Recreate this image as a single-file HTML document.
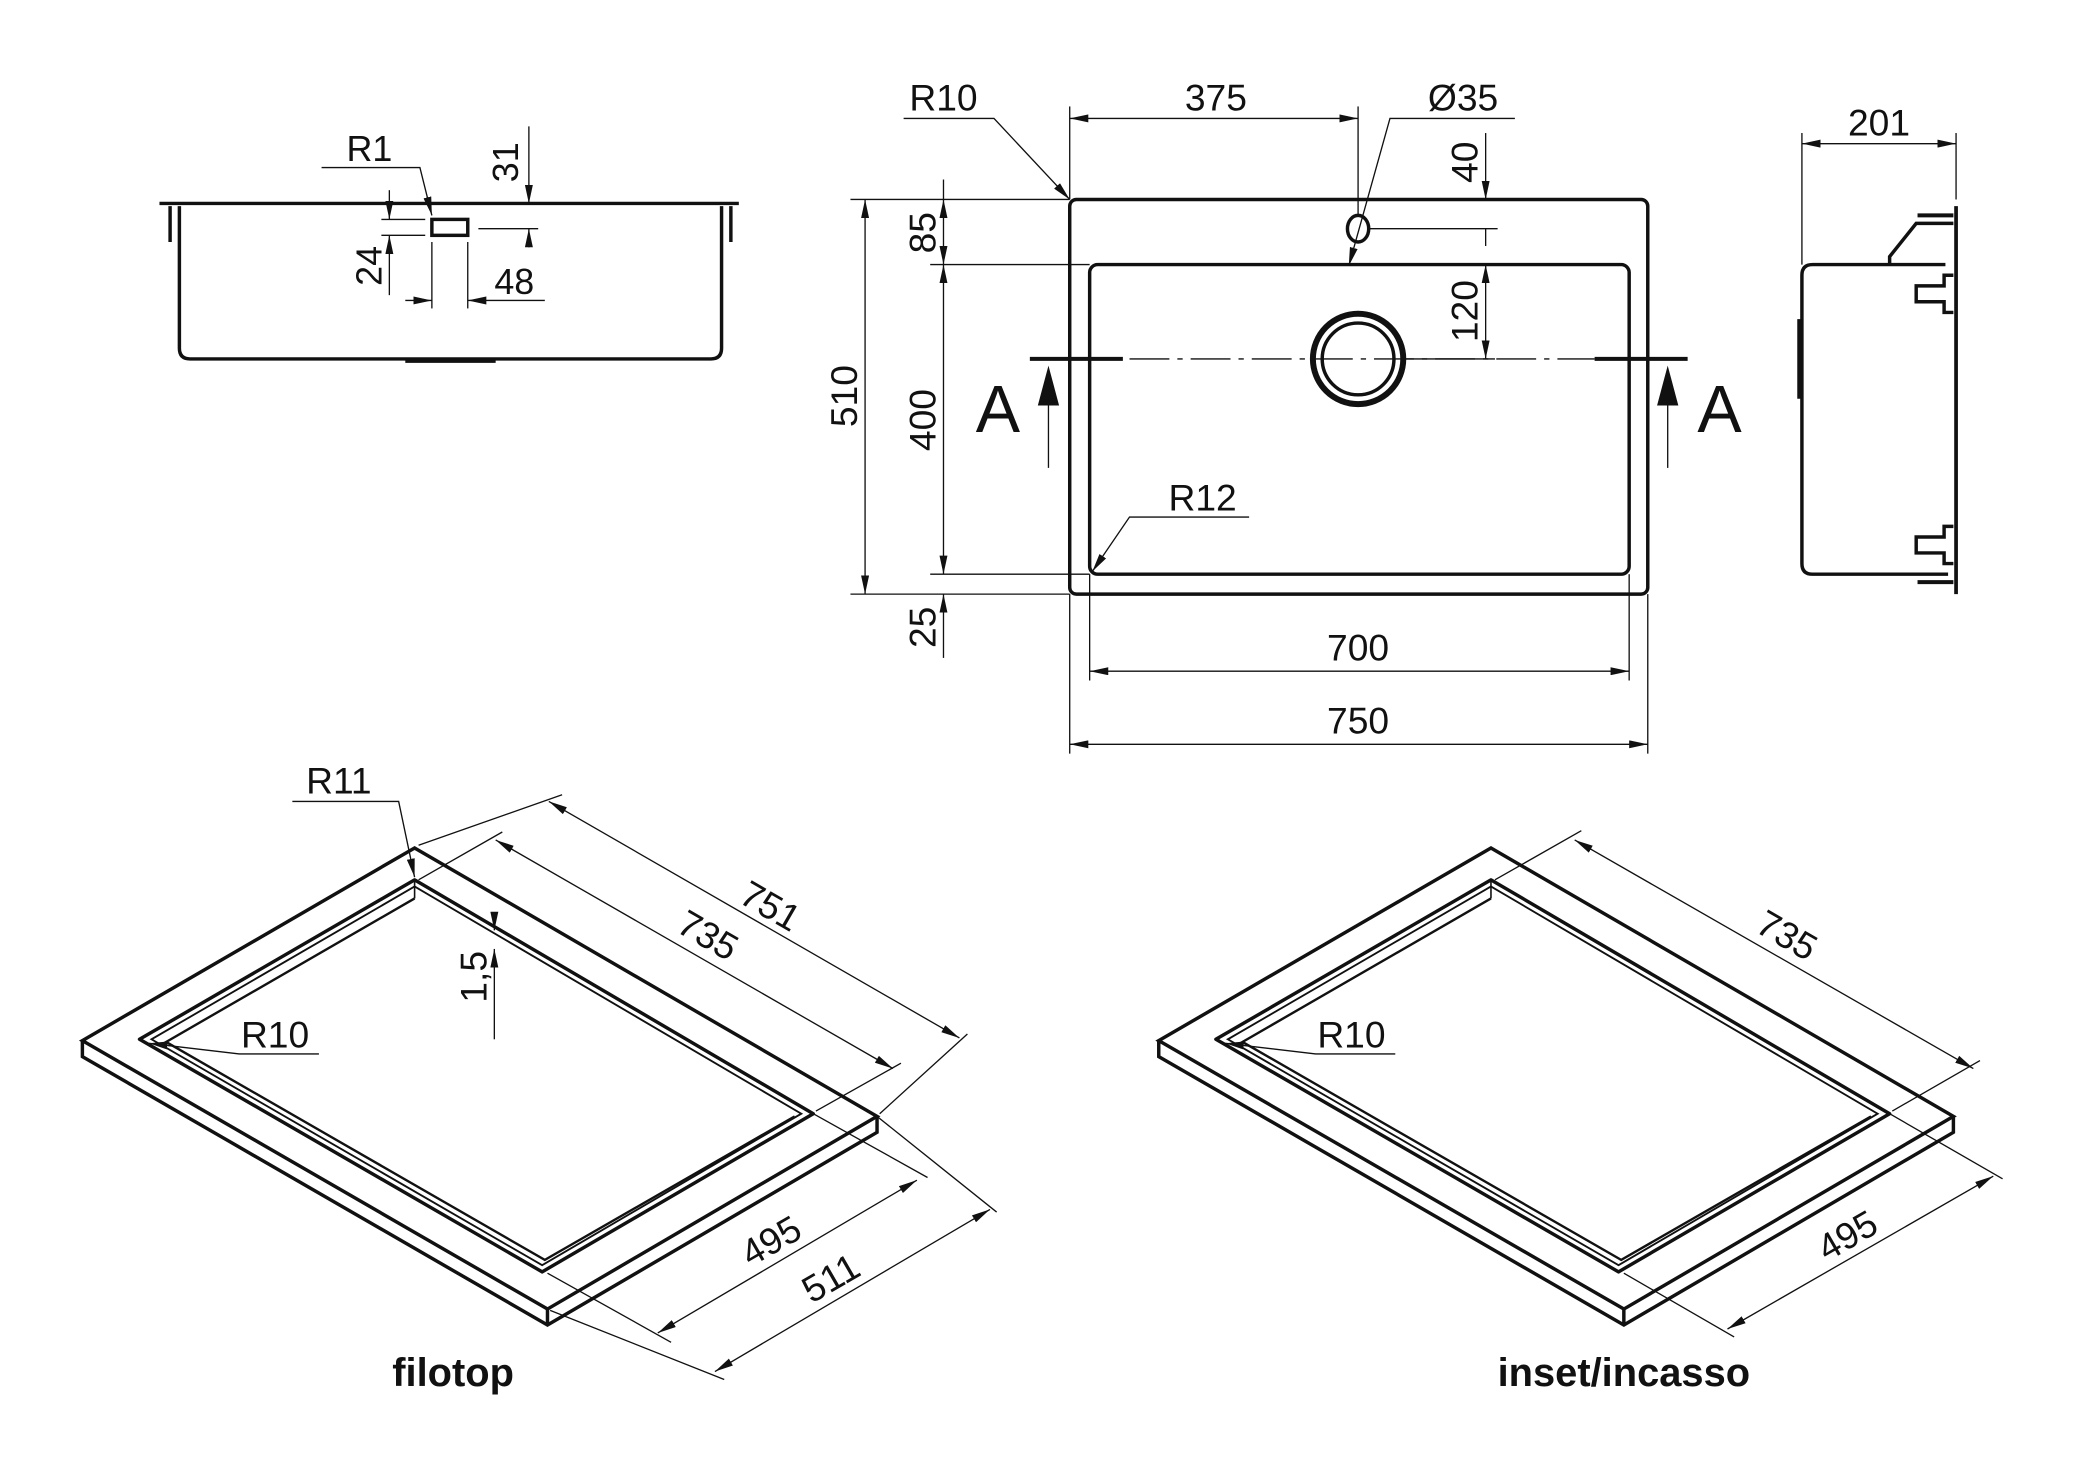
<!DOCTYPE html>
<html><head><meta charset="utf-8"><style>
html,body{margin:0;padding:0;background:#fff}
svg{display:block}
text{font-family:"Liberation Sans Narrow","Liberation Sans",sans-serif;fill:#111}
</style></head><body>
<svg width="2073" height="1466" viewBox="0 0 1560 1103" xmlns="http://www.w3.org/2000/svg">
<defs>
<marker id="a" viewBox="0 0 14 6" refX="14" refY="3" markerWidth="14" markerHeight="6" markerUnits="userSpaceOnUse" orient="auto-start-reverse"><path d="M0,0 L14,3 L0,6z" fill="#111"/></marker>
</defs>
<g fill="none" stroke="#111" stroke-width="1">
<g stroke-width="2.6">
<line x1="120" y1="153" x2="556" y2="153"/>
<path d="M135,155 V262 Q135,270 143,270 H535 Q543,270 543,262 V155"/>
<line x1="128" y1="155" x2="128" y2="182"/><line x1="550" y1="155" x2="550" y2="182"/>
<line x1="305" y1="271" x2="373" y2="271" stroke-width="4"/>
<rect x="325" y="165" width="27" height="12"/>
</g>
<polyline points="242,126 316,126 325,162" marker-end="url(#a)"/>
<line x1="398" y1="95" x2="398" y2="153" marker-end="url(#a)"/>
<line x1="398" y1="186" x2="398" y2="172" marker-end="url(#a)"/>
<line x1="360" y1="172" x2="405" y2="172"/>
<line x1="293" y1="143" x2="293" y2="165" marker-end="url(#a)"/>
<line x1="293" y1="222" x2="293" y2="177" marker-end="url(#a)"/>
<line x1="287" y1="165" x2="320" y2="165"/><line x1="287" y1="177" x2="320" y2="177"/>
<line x1="325" y1="182" x2="325" y2="232"/><line x1="352" y1="182" x2="352" y2="232"/>
<line x1="305" y1="226" x2="325" y2="226" marker-end="url(#a)"/>
<line x1="410" y1="226" x2="352" y2="226" marker-end="url(#a)"/>
</g>
<text x="278" y="121" font-size="27" text-anchor="middle">R1</text>
<text x="390" y="122" font-size="27" text-anchor="middle" transform="rotate(-90 390 122)">31</text>
<text x="287" y="200" font-size="27" text-anchor="middle" transform="rotate(-90 287 200)">24</text>
<text x="387" y="221" font-size="27" text-anchor="middle">48</text>

<g fill="none" stroke="#111" stroke-width="2.6">
<rect x="805" y="150" width="435" height="297" rx="5"/>
<rect x="820" y="199" width="406" height="233" rx="6"/>
<circle cx="1022" cy="270" r="34" stroke-width="4.5"/>
<circle cx="1022" cy="270" r="27"/>
<ellipse cx="1022" cy="172" rx="8" ry="10"/>
<line x1="775" y1="270" x2="845" y2="270" stroke-width="3"/>
<line x1="1200" y1="270" x2="1270" y2="270" stroke-width="3"/>
</g>
<g fill="none" stroke="#111" stroke-width="1">
<line x1="850" y1="270" x2="1200" y2="270" stroke-dasharray="30,6,4,6"/>
<line x1="789" y1="352" x2="789" y2="305"/>
<line x1="1255" y1="352" x2="1255" y2="305"/>
<line x1="805" y1="80" x2="805" y2="150"/>
<line x1="1022" y1="80" x2="1022" y2="162"/>
<line x1="805" y1="89" x2="1022" y2="89" marker-start="url(#a)" marker-end="url(#a)"/>
<polyline points="1140,89 1046,89 1015,200" marker-end="url(#a)"/>
<line x1="1030" y1="172" x2="1127" y2="172"/>
<line x1="1118" y1="100" x2="1118" y2="150" marker-end="url(#a)"/>
<line x1="1118" y1="185" x2="1118" y2="172"/>
<line x1="1118" y1="199" x2="1118" y2="270" marker-start="url(#a)" marker-end="url(#a)"/>
<line x1="1056" y1="270" x2="1125" y2="270"/>
<line x1="640" y1="150" x2="805" y2="150"/>
<line x1="700" y1="199" x2="820" y2="199"/>
<line x1="700" y1="432" x2="820" y2="432"/>
<line x1="640" y1="447" x2="805" y2="447"/>
<line x1="651" y1="150" x2="651" y2="447" marker-start="url(#a)" marker-end="url(#a)"/>
<line x1="710" y1="135" x2="710" y2="150" />
<line x1="710" y1="150" x2="710" y2="199" marker-start="url(#a)" marker-end="url(#a)"/>
<line x1="710" y1="199" x2="710" y2="432" marker-start="url(#a)" marker-end="url(#a)"/>
<line x1="710" y1="495" x2="710" y2="447" marker-end="url(#a)"/>
<line x1="820" y1="432" x2="820" y2="512"/>
<line x1="1226" y1="432" x2="1226" y2="512"/>
<line x1="805" y1="447" x2="805" y2="567"/>
<line x1="1240" y1="447" x2="1240" y2="567"/>
<line x1="820" y1="505" x2="1226" y2="505" marker-start="url(#a)" marker-end="url(#a)"/>
<line x1="805" y1="560" x2="1240" y2="560" marker-start="url(#a)" marker-end="url(#a)"/>
<polyline points="680,89 748,89 805,150" marker-end="url(#a)"/>
<polyline points="940,389 850,389 822,430" marker-end="url(#a)"/>
</g>
<path d="M789,275 L781,305 L797,305z" fill="#111"/>
<path d="M1255,275 L1247,305 L1263,305z" fill="#111"/>
<text x="751" y="325" font-size="50" text-anchor="middle">A</text>
<text x="1294" y="325" font-size="50" text-anchor="middle">A</text>
<text x="915" y="83" font-size="28" text-anchor="middle">375</text>
<text x="1101" y="83" font-size="28" text-anchor="middle">Ø35</text>
<text x="1112" y="122" font-size="28" text-anchor="middle" transform="rotate(-90 1112 122)">40</text>
<text x="1112" y="234" font-size="28" text-anchor="middle" transform="rotate(-90 1112 234)">120</text>
<text x="704" y="175" font-size="28" text-anchor="middle" transform="rotate(-90 704 175)">85</text>
<text x="704" y="316" font-size="28" text-anchor="middle" transform="rotate(-90 704 316)">400</text>
<text x="704" y="472" font-size="28" text-anchor="middle" transform="rotate(-90 704 472)">25</text>
<text x="645" y="298" font-size="28" text-anchor="middle" transform="rotate(-90 645 298)">510</text>
<text x="1022" y="497" font-size="28" text-anchor="middle">700</text>
<text x="1022" y="552" font-size="28" text-anchor="middle">750</text>
<text x="710" y="83" font-size="28" text-anchor="middle">R10</text>
<text x="905" y="384" font-size="28" text-anchor="middle">R12</text>

<g fill="none" stroke="#111" stroke-width="2.6">
<path d="M1464,199 H1364 Q1356,199 1356,207 V424 Q1356,432 1364,432 H1466"/>
<line x1="1354" y1="240" x2="1354" y2="300" stroke-width="3"/>
<line x1="1472" y1="155" x2="1472" y2="447" stroke-width="2.8"/>
<path d="M1422,199 V193 L1442,168 H1470"/>
<line x1="1443" y1="162" x2="1470" y2="162" stroke-width="3"/>
<line x1="1443" y1="438" x2="1470" y2="438" stroke-width="3"/>
<path d="M1470,207 H1463 V215 H1442 V227 H1463 V235 H1470"/>
<path d="M1470,396 H1463 V404 H1442 V416 H1463 V424 H1470"/>
</g>
<g fill="none" stroke="#111" stroke-width="1">
<line x1="1356" y1="100" x2="1356" y2="199"/>
<line x1="1472" y1="100" x2="1472" y2="150"/>
<line x1="1356" y1="108" x2="1472" y2="108" marker-start="url(#a)" marker-end="url(#a)"/>
</g>
<text x="1414" y="102" font-size="28" text-anchor="middle">201</text>

<g fill="none" stroke="#111" stroke-width="2.6">
<path d="M62,783 L312,638 L660,840 L412,985 Z"/>
<path d="M62,783 V795 L412,997 L660,852 V840 M412,985 V997"/>
<path d="M312,662 L105,782 L408,957 L612,838 Z" stroke-linejoin="round"/>
<path d="M312,667 L114,782 L408,952 L603,838 Z" stroke-width="1.4"/>
<path d="M312,676 L125,784 L410,948 L598,840" stroke-width="1.8"/>
<line x1="312" y1="662" x2="312" y2="676" stroke-width="1.2"/>
</g>
<g fill="none" stroke="#111" stroke-width="1">
<line x1="315" y1="636" x2="423" y2="598"/>
<line x1="662" y1="838" x2="728" y2="778"/>
<line x1="413" y1="603" x2="722" y2="781" marker-start="url(#a)" marker-end="url(#a)"/>
<line x1="315" y1="662" x2="378" y2="626"/>
<line x1="614" y1="836" x2="678" y2="800"/>
<line x1="373" y1="632" x2="672" y2="804" marker-start="url(#a)" marker-end="url(#a)"/>
<line x1="412" y1="958" x2="505" y2="1010"/>
<line x1="612" y1="838" x2="698" y2="886"/>
<line x1="495" y1="1003" x2="690" y2="888" marker-start="url(#a)" marker-end="url(#a)"/>
<line x1="414" y1="986" x2="545" y2="1038"/>
<line x1="660" y1="840" x2="750" y2="912"/>
<line x1="538" y1="1032" x2="745" y2="910" marker-start="url(#a)" marker-end="url(#a)"/>
<line x1="372" y1="688" x2="372" y2="700" marker-end="url(#a)"/>
<line x1="372" y1="782" x2="372" y2="714" marker-end="url(#a)"/>
<polyline points="220,603 300,603 312,660" marker-end="url(#a)"/>
<polyline points="240,793 180,793 112,785" marker-end="url(#a)"/>
</g>
<text x="255" y="597" font-size="28" text-anchor="middle">R11</text>
<text x="207" y="788" font-size="28" text-anchor="middle">R10</text>
<text x="575" y="690" font-size="28" text-anchor="middle" transform="rotate(30 575 690)">751</text>
<text x="528" y="712" font-size="28" text-anchor="middle" transform="rotate(30 528 712)">735</text>
<text x="585" y="942" font-size="28" text-anchor="middle" transform="rotate(-30 585 942)">495</text>
<text x="630" y="970" font-size="28" text-anchor="middle" transform="rotate(-30 630 970)">511</text>
<text x="366" y="735" font-size="28" text-anchor="middle" transform="rotate(-90 366 735)">1,5</text>
<text x="341" y="1043" font-size="30" font-weight="bold" text-anchor="middle" style="font-family:'Liberation Sans',sans-serif">filotop</text>

<g transform="translate(810,0)">
<g fill="none" stroke="#111" stroke-width="2.6">
<path d="M62,783 L312,638 L660,840 L412,985 Z"/>
<path d="M62,783 V795 L412,997 L660,852 V840 M412,985 V997"/>
<path d="M312,662 L105,782 L408,957 L612,838 Z" stroke-linejoin="round"/>
<path d="M312,667 L114,782 L408,952 L603,838 Z" stroke-width="1.4"/>
<path d="M312,676 L125,784 L410,948 L598,840" stroke-width="1.8"/>
<line x1="312" y1="662" x2="312" y2="676" stroke-width="1.2"/>
</g>
<g fill="none" stroke="#111" stroke-width="1">
<line x1="315" y1="662" x2="380" y2="625"/>
<line x1="614" y1="836" x2="680" y2="798"/>
<line x1="375" y1="632" x2="675" y2="804" marker-start="url(#a)" marker-end="url(#a)"/>
<line x1="412" y1="958" x2="495" y2="1006"/>
<line x1="612" y1="838" x2="697" y2="887"/>
<line x1="490" y1="1000" x2="690" y2="885" marker-start="url(#a)" marker-end="url(#a)"/>
<polyline points="240,793 180,793 112,785" marker-end="url(#a)"/>
</g>
<text x="207" y="788" font-size="28" text-anchor="middle">R10</text>
<text x="530" y="712" font-size="28" text-anchor="middle" transform="rotate(30 530 712)">735</text>
<text x="585" y="938" font-size="28" text-anchor="middle" transform="rotate(-30 585 938)">495</text>
</g>
<text x="1222" y="1043" font-size="30" font-weight="bold" text-anchor="middle" style="font-family:'Liberation Sans',sans-serif">inset/incasso</text>
</svg>
</body></html>
